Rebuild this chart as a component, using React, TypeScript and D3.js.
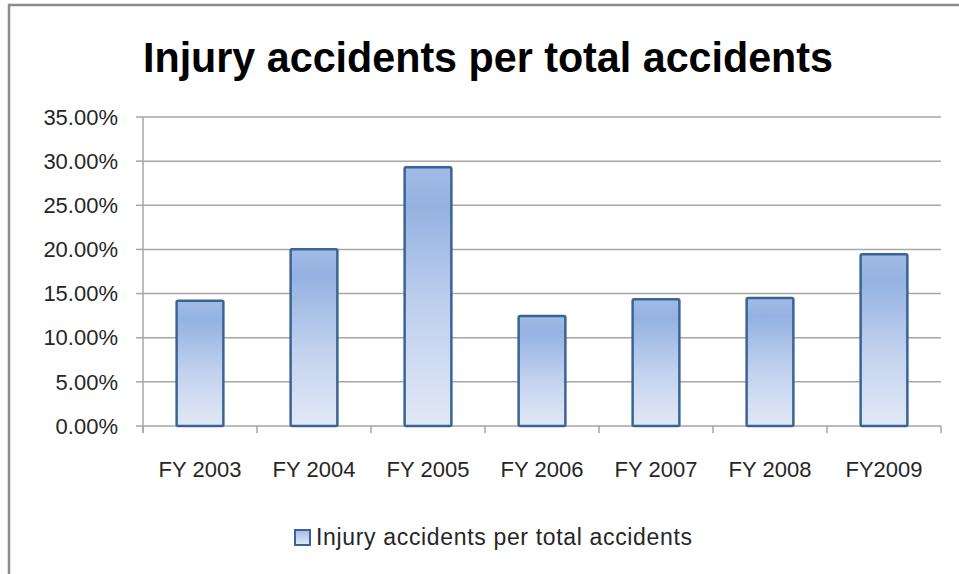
import React from "react";
import * as d3 from "d3";

const categories = ["FY 2003", "FY 2004", "FY 2005", "FY 2006", "FY 2007", "FY 2008", "FY2009"];
const values = [0.1419, 0.2001, 0.2930, 0.1246, 0.1435, 0.1450, 0.1945];
const yTicks = [0, 0.05, 0.1, 0.15, 0.2, 0.25, 0.3, 0.35];
const seriesName = "Injury accidents per total accidents";
const title = "Injury accidents per total accidents";

const W = 959;
const H = 574;
const left = 143;
const right = 941;
const top = 117;
const bottom = 426;

export default function App() {
  const x = d3.scaleBand<string>().domain(categories).range([left, right]).paddingInner(0.59).paddingOuter(0.295);
  const band = d3.scaleBand<string>().domain(categories).range([left, right]);
  const y = d3.scaleLinear().domain([0, 0.35]).range([bottom, top]);
  const fmt = (v: number) => (v * 100).toFixed(2) + "%";
  const font = "'Liberation Sans', Arial, sans-serif";
  const tickEdges = [...categories.map((c) => band(c) as number), right];

  return (
    <svg width={W} height={H} style={{ position: "absolute", left: 0, top: 0, background: "#fff" }}>
      <defs>
        <linearGradient id="barGrad" x1="0" y1="0" x2="0" y2="1">
          <stop offset="0%" stopColor="#a1bbe5" />
          <stop offset="15%" stopColor="#94b2e1" />
          <stop offset="55%" stopColor="#c0d0ee" />
          <stop offset="100%" stopColor="#e2e9f6" />
        </linearGradient>
        <linearGradient id="legGrad" x1="0" y1="0" x2="0" y2="1">
          <stop offset="0%" stopColor="#a1bbe5" />
          <stop offset="100%" stopColor="#e2e9f6" />
        </linearGradient>
      </defs>
      {/* chart frame */}
      <path d={`M9,${H + 5} L9,5 L${W + 5},5`} fill="none" stroke="#8c8c8c" strokeWidth={2.5} />
      {/* title */}
      <text x={488} y={72} textAnchor="middle" fontFamily={font} fontWeight="bold" fontSize={42}
        textLength={690} lengthAdjust="spacingAndGlyphs" fill="#000">{title}</text>
      {/* gridlines */}
      {yTicks.map((t) => (
        <line key={"g" + t} x1={left} x2={right} y1={y(t)} y2={y(t)} stroke="#a6a6a6" strokeWidth={1.5} />
      ))}
      {/* y axis */}
      <line x1={left} x2={left} y1={top} y2={bottom + 7} stroke="#a6a6a6" strokeWidth={1.5} />
      {yTicks.map((t) => (
        <g key={"yt" + t}>
          <line x1={left - 7} x2={left} y1={y(t)} y2={y(t)} stroke="#a6a6a6" strokeWidth={1.5} />
          <text x={118} y={y(t)} dy="0.35em" textAnchor="end" fontFamily={font} fontSize={22} fill="#262626">{fmt(t)}</text>
        </g>
      ))}
      {/* x tick marks */}
      {tickEdges.map((e, i) => (
        <line key={"xt" + i} x1={e} x2={e} y1={bottom} y2={bottom + 7} stroke="#a6a6a6" strokeWidth={1.5} />
      ))}
      {/* bars */}
      {categories.map((c, i) => (
        <rect key={c} x={x(c)} y={y(values[i])} width={x.bandwidth()} height={bottom - y(values[i])}
          fill="url(#barGrad)" stroke="#3b6496" strokeWidth={2.5} rx={1.5} />
      ))}
      {/* x labels */}
      {categories.map((c) => (
        <text key={"xl" + c} x={(band(c) as number) + band.bandwidth() / 2} y={477} textAnchor="middle"
          fontFamily={font} fontSize={22} fill="#262626">{c}</text>
      ))}
      {/* legend */}
      <rect x={295} y={530} width={15} height={15} fill="url(#legGrad)" stroke="#3b6496" strokeWidth={2} />
      <text x={316} y={545} fontFamily={font} fontSize={23} textLength={376} lengthAdjust="spacing" fill="#262626">{seriesName}</text>
    </svg>
  );
}
